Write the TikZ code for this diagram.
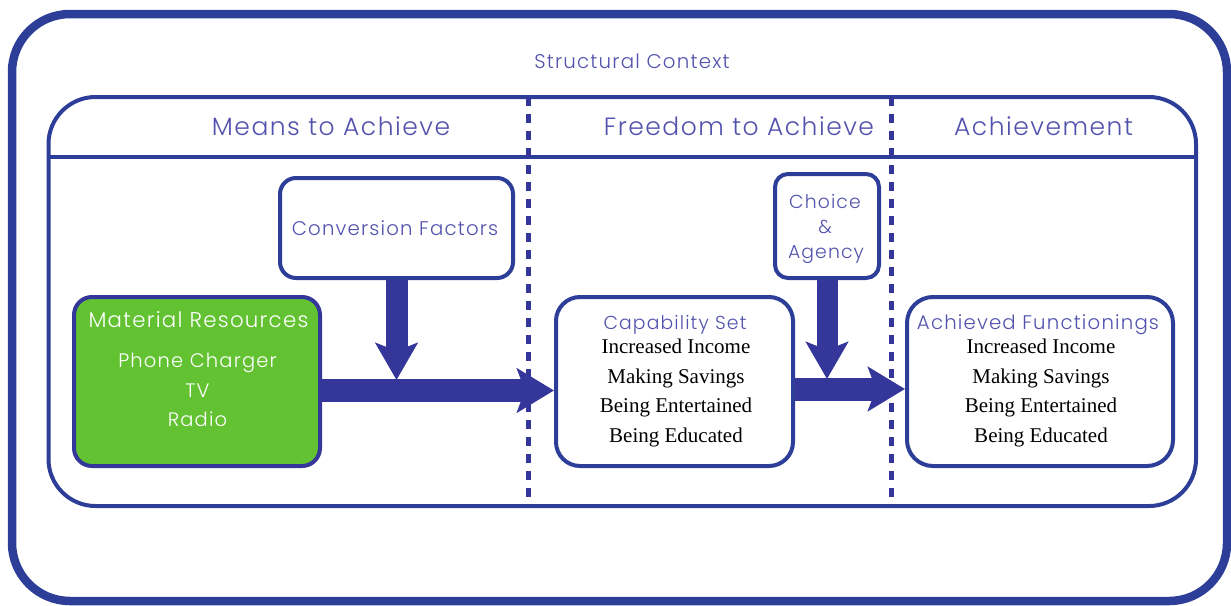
\documentclass[tikz,border=0pt]{standalone}
\usepackage{fontspec}
\usetikzlibrary{arrows.meta}
\newfontfamily\hdr{Poppins Light}[LetterSpace=6]
\newfontfamily\srf{Liberation Serif}
\definecolor{bord}{HTML}{2C3E98}
\definecolor{arr}{HTML}{35369A}
\definecolor{txt}{HTML}{5252AE}
\definecolor{grn}{HTML}{62C232}
\tikzset{
  box/.style={draw=bord, line width=4pt, fill=white, rounded corners=#1, inner sep=0pt},
  box/.default=22pt,
  htxt/.style={text=txt, inner sep=0pt, anchor=base, font=\hdr},
  stxt/.style={text=black, inner sep=0pt, anchor=base, font=\srf\fontsize{21}{21}\selectfont},
  bigarrow/.style={draw=arr, line width=23pt, -{Stealth[length=37pt, width=44pt, inset=8pt]}},
  sep/.style={draw=arr, line width=5pt, dash pattern=on 9pt off 8pt},
}
\begin{document}
\begin{tikzpicture}[x=1pt,y=-1pt]
\useasboundingbox (0,0) rectangle (1231,605);
% outer box
\draw[draw=bord, line width=8.5pt, rounded corners=58pt] (12,14) rectangle (1227,601);
\node[htxt, font=\hdr\fontsize{19.8}{20}\selectfont] (sc) at (632,68) {Structural Context};
% inner box
\draw[draw=bord, line width=4pt, rounded corners=47pt] (48.5,97) rectangle (1196,506);
\coordinate (hl) at (48.5,157);
\coordinate (hr) at (1196,157);
\draw[draw=bord, line width=4pt] (hl) -- (hr);
\coordinate (d1t) at (528,97);
\coordinate (d1b) at (528,506);
\coordinate (d2t) at (891,97);
\coordinate (d2b) at (891,506);
\draw[sep] (d1t) -- (d1b);
\draw[sep] (d2t) -- (d2b);
% headers
\node[htxt, font=\hdr\fontsize{25}{25}\selectfont] (h1) at (331,135) {Means to Achieve};
\node[htxt, font=\hdr\fontsize{25}{25}\selectfont] (h2) at (739,135) {Freedom to Achieve};
\node[htxt, font=\hdr\fontsize{25}{25}\selectfont] (h3) at (1043.5,135) {Achievement};
% boxes
\node[box=18pt, fill=grn, draw=arr, minimum width=246pt, minimum height=169pt] (mat) at (197,381.5) {};
\node[box=16pt, minimum width=233pt, minimum height=100pt] (conv) at (396.5,228) {};
\node[box=24pt, minimum width=237pt, minimum height=169pt] (cap) at (674.5,381.5) {};
\node[box=13pt, minimum width=104pt, minimum height=104pt] (cho) at (827,226) {};
\node[box=26pt, minimum width=266pt, minimum height=169pt] (ach) at (1040,381.5) {};
% box texts
\node[htxt, text=white, font=\hdr\fontsize{21.3}{21}\selectfont] (matt) at (198.5,327) {Material Resources};
\node[htxt, text=white, font=\hdr\fontsize{19.5}{19}\selectfont] (mat1) at (197.5,367) {Phone Charger};
\node[htxt, text=white, font=\hdr\fontsize{19.5}{19}\selectfont] (mat2) at (197.5,397) {TV};
\node[htxt, text=white, font=\hdr\fontsize{19.5}{19}\selectfont] (mat3) at (197.5,426) {Radio};
\node[htxt, font=\hdr\fontsize{19.7}{19}\selectfont] (convt) at (395,235) {Conversion Factors};
\node[htxt, font=\hdr\fontsize{18.8}{19}\selectfont] (cho1) at (825,208) {Choice};
\node[htxt, font=\hdr\fontsize{18.8}{19}\selectfont] (cho2) at (825,233) {\&};
\node[htxt, font=\hdr\fontsize{18.8}{19}\selectfont] (cho3) at (826,258) {Agency};
\node[htxt, font=\hdr\fontsize{18.8}{19}\selectfont] (capt) at (675,329) {Capability Set};
\node[htxt, font=\hdr\fontsize{19.7}{19}\selectfont] (acht) at (1038,329) {Achieved Functionings};
\foreach \t/\y [count=\i] in {Increased Income/353, Making Savings/383, Being Entertained/412, Being Educated/442} {
  \node[stxt] (c\i) at (676,\y) {\t};
  \node[stxt] (a\i) at (1041,\y) {\t};
}
% arrows
\coordinate (m1) at (396.5,380);
\coordinate (m2) at (827,379);
\draw[bigarrow] (mat.east |- 0,390.5) -- (cap.west |- 0,390.5);
\draw[bigarrow] (cap.east |- 0,389) -- (ach.west |- 0,389);
\draw[bigarrow, line width=22pt, -{Stealth[length=37pt, width=42pt, inset=8pt]}] (conv.south) -- (m1);
\draw[bigarrow, line width=21pt, -{Stealth[length=37pt, width=42pt, inset=8pt]}] (cho.south) -- (m2);
\end{tikzpicture}
\end{document}
